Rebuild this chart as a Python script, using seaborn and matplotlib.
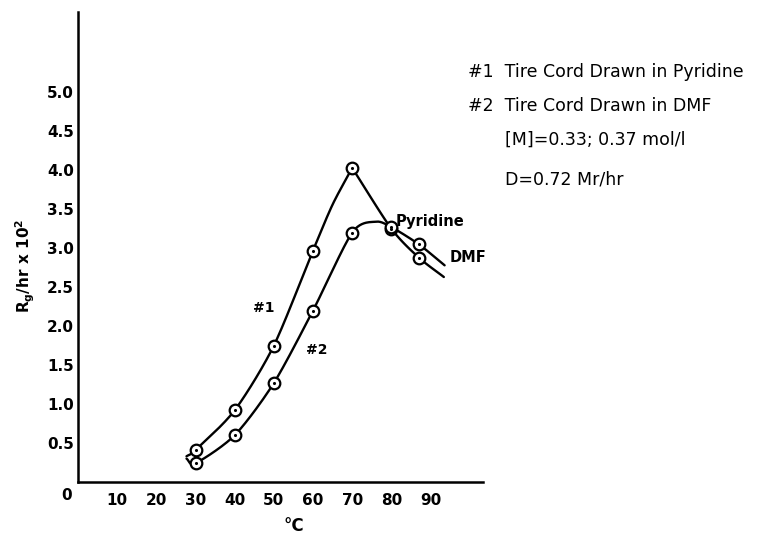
import numpy as np
import pandas as pd
import matplotlib
matplotlib.use("Agg")
import matplotlib.pyplot as plt
import seaborn as sns

# ---- data ----
temp = [30, 40, 50, 60, 70, 80, 87]
rate_pyridine = [0.41, 0.92, 1.75, 2.97, 4.03, 3.25, 2.88]   # #1
rate_dmf = [0.24, 0.60, 1.27, 2.20, 3.20, 3.27, 3.05]        # #2

# drawn curve traces (including line ends / DMF hump)
curve1a_x = [27.7, 30, 40, 50, 60, 65, 70]          # #1 rising branch
curve1a_y = [0.33, 0.41, 0.92, 1.75, 2.97, 3.56, 4.03]
curve1b_x = [70, 80, 87, 93.4]                      # #1 falling branch
curve1b_y = [4.03, 3.25, 2.88, 2.63]
curve2_x = [27.7, 30, 40, 50, 60, 70, 76, 80, 87, 93.6]
curve2_y = [0.30, 0.24, 0.60, 1.27, 2.20, 3.20, 3.34, 3.27, 3.05, 2.78]

xticks = [10, 20, 30, 40, 50, 60, 70, 80, 90]
yticks = [0.5, 1.0, 1.5, 2.0, 2.5, 3.0, 3.5, 4.0, 4.5, 5.0]
ytick_labels = ["0.5", "1.0", "1.5", "2.0", "2.5", "3.0", "3.5", "4.0", "4.5", "5.0"]

legend_lines = ["#1  Tire Cord Drawn in Pyridine",
                "#2  Tire Cord Drawn in DMF",
                "[M]=0.33; 0.37 mol/l",
                "D=0.72 Mr/hr"]


def cardinal(xs, ys, n=24, c=0.8):
    p = np.column_stack([xs, ys]).astype(float)
    p = np.vstack([p[0] - (p[1] - p[0]), p, p[-1] + (p[-1] - p[-2])])
    out = []
    t = np.linspace(0, 1, n, endpoint=False)[:, None]
    h00 = 2 * t**3 - 3 * t**2 + 1
    h10 = t**3 - 2 * t**2 + t
    h01 = -2 * t**3 + 3 * t**2
    h11 = t**3 - t**2
    for i in range(1, len(p) - 2):
        p0, p1, p2, p3 = p[i - 1], p[i], p[i + 1], p[i + 2]
        m1 = 0.5 * c * (p2 - p0)
        m2 = 0.5 * c * (p3 - p1)
        out.append(h00 * p1 + h10 * m1 + h01 * p2 + h11 * m2)
    out.append(p[-2][None, :])
    s = np.vstack(out)
    return s[:, 0], s[:, 1]


sns.set_style("white")
plt.rcParams['font.family'] = ['DejaVu Sans']
for k in ["text.color", "axes.labelcolor", "xtick.color", "ytick.color", "axes.edgecolor"]:
    plt.rcParams[k] = "black"

fig = plt.figure(figsize=(7.6, 5.35), dpi=100)
ax = fig.add_axes([78 / 760, 1 - 482 / 535, (483 - 78) / 760, (482 - 12) / 535])

for cx, cy in [(curve1a_x, curve1a_y), (curve1b_x, curve1b_y), (curve2_x, curve2_y)]:
    sx, sy = cardinal(cx, cy)
    sns.lineplot(x=sx, y=sy, sort=False, estimator=None, color="black", lw=1.7, ax=ax)

pts = pd.DataFrame({"t": temp * 2, "r": rate_pyridine + rate_dmf})
sns.scatterplot(data=pts, x="t", y="r", s=70, facecolor="white", edgecolor="black",
                linewidth=1.6, ax=ax, zorder=3)
sns.scatterplot(data=pts, x="t", y="r", s=5, color="black", linewidth=0, ax=ax, zorder=4)

ax.set_xlim(0, 103.4)
ax.set_ylim(0, 6.03)
ax.set_xticks(xticks)
ax.set_xticklabels([str(v) for v in xticks])
ax.set_yticks(yticks)
ax.set_yticklabels(ytick_labels)
for s in ["top", "right"]:
    ax.spines[s].set_visible(False)
for s in ["left", "bottom"]:
    ax.spines[s].set_linewidth(1.8)
    ax.spines[s].set_color("black")
ax.tick_params(axis="x", direction="in", length=4.5, width=1.2, pad=8, labelsize=11)
ax.tick_params(axis="y", direction="in", length=5, width=1.6, pad=3, labelsize=11)
for lab in ax.get_xticklabels() + ax.get_yticklabels():
    lab.set_fontweight("bold")

ax.set_xlabel("")
ax.set_ylabel("")
ax.text((294 - 78) / 405, -(526 - 482) / 470, "°C", transform=ax.transAxes,
        fontsize=12, fontweight="bold", ha="center", va="center")
ax.text(-(78 - 25) / 405, (482 - 266) / 470, r"$\mathbf{R_g}$/hr x 10$^{\mathbf{2}}$",
        transform=ax.transAxes, rotation=90, fontsize=11, fontweight="bold",
        ha="center", va="center")

ax.annotate("0", xy=(0, 0), xytext=(-11, -13), textcoords="offset pixels",
            ha="center", va="center", fontsize=11, fontweight="bold")

ax.text(47.3, 2.23, "#1", fontsize=10, fontweight="bold", ha="center", va="center")
ax.text(61.0, 1.69, "#2", fontsize=10, fontweight="bold", ha="center", va="center")
ax.text(81.2, 3.34, "Pyridine", fontsize=10.5, fontweight="bold", ha="left", va="center")
ax.text(94.8, 2.88, "DMF", fontsize=10.5, fontweight="bold", ha="left", va="center")

pos = [(468, 72), (468, 106), (505, 140), (505, 180)]
for (px, py), txt in zip(pos, legend_lines):
    fig.text(px / 760, 1 - py / 535, txt, fontsize=12.5, ha="left", va="center")

fig.savefig("out.png", dpi=100)
